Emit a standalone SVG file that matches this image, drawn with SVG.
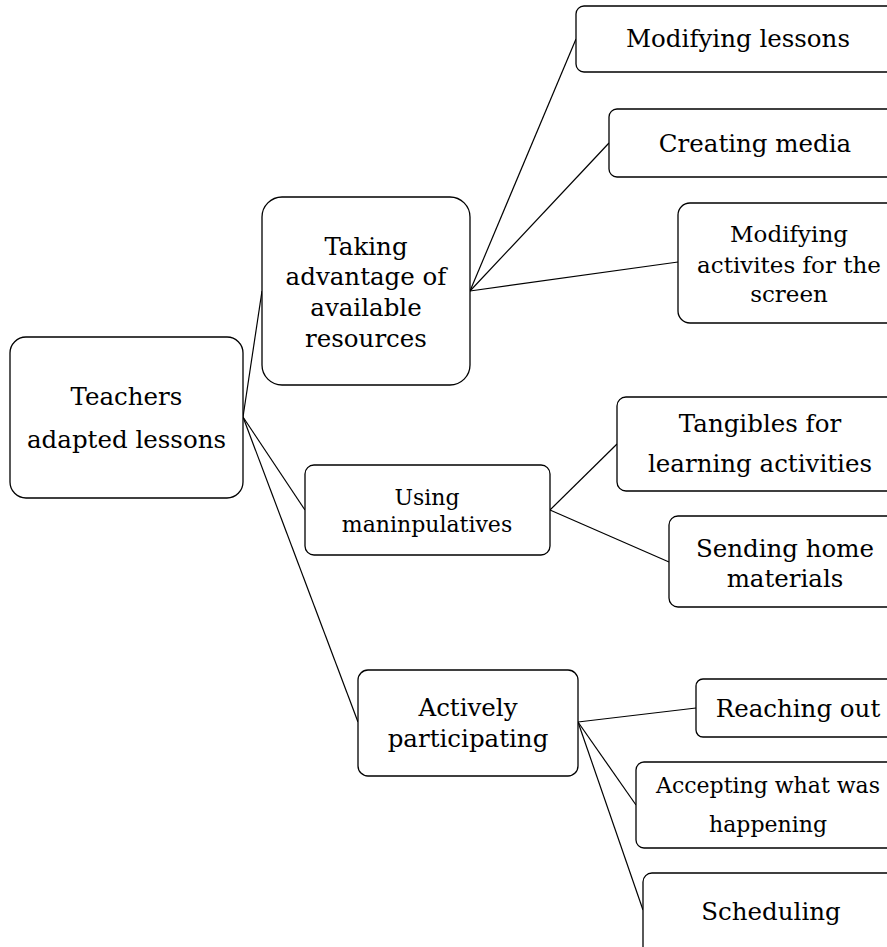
<svg xmlns="http://www.w3.org/2000/svg" width="887" height="947" viewBox="0 0 887 947">
<style>
rect{fill:#fff;stroke:#000;stroke-width:1.3}
.c line{stroke:#000;stroke-width:1.2}
text{font-family:"DejaVu Serif","Liberation Serif",serif;font-size:24.5px;fill:#000;text-anchor:middle}
.s{font-size:22px}
</style>
<rect x="0" y="0" width="887" height="947" style="stroke:none"/>
<g class="c" id="connectors">
<line x1="243" y1="417" x2="262" y2="291"/>
<line x1="243" y1="417" x2="305" y2="510"/>
<line x1="243" y1="417" x2="358" y2="722"/>
<line x1="470" y1="291" x2="576" y2="39"/>
<line x1="470" y1="291" x2="609" y2="143"/>
<line x1="470" y1="291" x2="678" y2="262"/>
<line x1="550" y1="510" x2="617" y2="444"/>
<line x1="550" y1="510" x2="669" y2="562"/>
<line x1="578" y1="722" x2="696" y2="708"/>
<line x1="578" y1="722" x2="636" y2="805"/>
<line x1="578" y1="722" x2="643" y2="910"/>
</g>
<g id="root"><rect x="10" y="337" width="233" height="161" rx="16"/><text x="126.5" y="405">Teachers</text><text x="126.5" y="448">adapted lessons</text></g>
<g id="taking"><rect x="262" y="197" width="208" height="188" rx="20"/><text x="366" y="255">Taking</text><text x="366" y="285">advantage of</text><text x="366" y="316">available</text><text x="366" y="347">resources</text></g>
<g id="using"><rect x="305" y="465" width="245" height="90" rx="9"/><text class="s" x="427" y="505">Using</text><text class="s" x="427" y="532">maninpulatives</text></g>
<g id="actively"><rect x="358" y="670" width="220" height="106" rx="10"/><text x="468" y="716">Actively</text><text x="468" y="747">participating</text></g>
<g id="modlessons"><rect x="576" y="6" width="324" height="66" rx="8"/><text x="738" y="47">Modifying lessons</text></g>
<g id="creating"><rect x="609" y="109" width="292" height="68" rx="8"/><text x="755" y="152">Creating media</text></g>
<g id="modact"><rect x="678" y="203" width="222" height="120" rx="12"/><text class="s" x="789" y="242" style="font-size:23px">Modifying</text><text x="789" y="273" style="font-size:23px">activites for the</text><text x="789" y="302" style="font-size:23px">screen</text></g>
<g id="tangibles"><rect x="617" y="397" width="286" height="94" rx="9"/><text x="760" y="432">Tangibles for</text><text x="760" y="472">learning activities</text></g>
<g id="sending"><rect x="669" y="516" width="232" height="91" rx="9"/><text x="785" y="557">Sending home</text><text x="785" y="587">materials</text></g>
<g id="reaching"><rect x="696" y="679" width="204" height="58" rx="7"/><text x="798" y="717">Reaching out</text></g>
<g id="accepting"><rect x="636" y="762" width="264" height="86" rx="8"/><text class="s" x="768" y="793">Accepting what was</text><text class="s" x="768" y="832">happening</text></g>
<g id="scheduling"><rect x="643" y="873" width="256" height="90" rx="9"/><text x="771" y="920">Scheduling</text></g>
</svg>
